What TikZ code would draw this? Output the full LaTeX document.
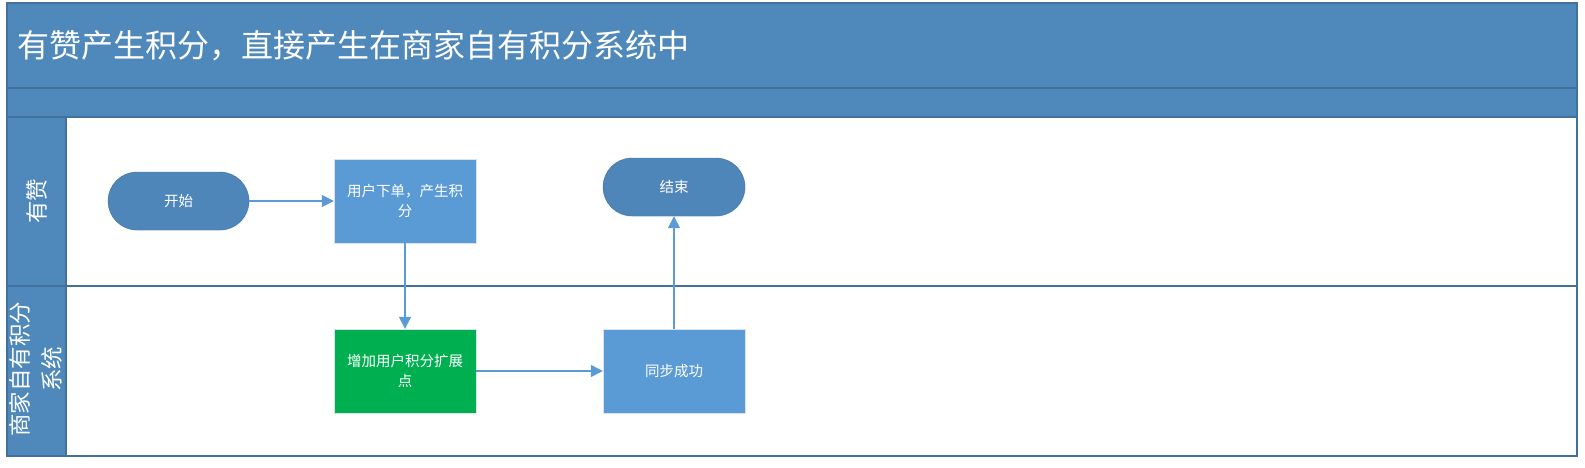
\documentclass[tikz,border=0pt]{standalone}
\usepackage{fontspec}
\newfontfamily\cjk{Noto Sans CJK SC}
\usepackage{tikz}
\usetikzlibrary{positioning,arrows.meta,shadows}
\definecolor{bandblue}{HTML}{4F88BB}
\definecolor{lineblue}{HTML}{41719C}
\definecolor{boxblue}{HTML}{5B9BD5}
\definecolor{termblue}{HTML}{4F86B9}
\definecolor{okgreen}{HTML}{00B050}
\newcommand{\boxfont}{\cjk\fontsize{14.5}{20}\selectfont}
\newcommand{\lanefont}{\cjk\fontsize{22.5}{32}\selectfont}

\begin{document}
\begin{tikzpicture}[x=1pt,y=-1pt,
	flow/.style={draw=lineblue!20,fill=boxblue,text=white,minimum width=142pt,minimum height=84pt,inner sep=2pt,align=center,font=\boxfont,drop shadow={shadow xshift=1pt,shadow yshift=-1pt,fill=boxblue!20}},
	term/.style={draw=lineblue,fill=termblue,text=white,minimum width=141pt,minimum height=58pt,rounded corners=29pt,font=\boxfont,drop shadow={shadow xshift=1pt,shadow yshift=-1pt,fill=boxblue!20}},
	link/.style={draw=boxblue,line width=1.5pt,-{Triangle[length=12pt,width=12pt]}}]
					\useasboundingbox (0,0) rectangle (1585,467);
					% pool and lanes
					\fill[bandblue] (7,3) rectangle (1577,117) (7,117) rectangle (66,456);
					\draw[lineblue,line width=1.2pt] (7,3) rectangle (1577,456);
					\draw[lineblue,line width=1.2pt] (7,88)--(1577,88) (7,117)--(1577,117) (66,117)--(66,456) (7,286)--(1577,286);
					\node[anchor=west,text=white,font=\cjk\fontsize{32}{38}\selectfont] (title) at (14,46) {有赞产生积分，直接产生在商家自有积分系统中};
					\node[rotate=90,text=white,font=\lanefont] (laneA) at (37,201) {有赞};
					\node[rotate=90,text=white,align=center,font=\lanefont] (laneB) at (36,369) {商家自有积分\\系统};
					% steps
					\node[term] (start) at (178.5,201) {开始};
					\node[flow] (order) at (405,201) {用户下单，产生积\\分};
					\node[flow,fill=okgreen] (addext) at (405,371) {增加用户积分扩展\\点};
					\node[flow] (sync) at (674,371) {同步成功};
					\node[term,minimum width=142pt] (end) at (674,187) {结束};
					\draw[link] (start)--(order);
					\draw[link] (order)--(addext);
					\draw[link] (addext)--(sync);
					\draw[link] (sync)--(end);
		\end{tikzpicture}
\end{document}
